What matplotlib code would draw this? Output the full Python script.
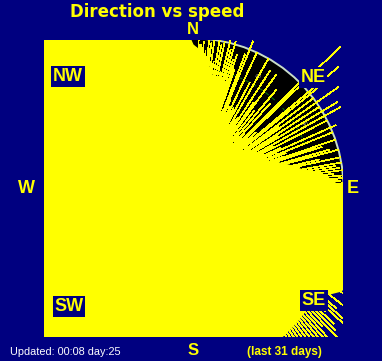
import numpy as np
import matplotlib
matplotlib.use("Agg")
import matplotlib.pyplot as plt
from matplotlib.patches import Circle

NAVY = "#000080"
YELLOW = "#ffff00"

# bulk of the readings: max speed reached by the dense part, per 5 deg (compass, clockwise from N)
env_dir = [0, 5, 10, 15, 20, 25, 30, 35, 40, 45, 50, 55, 60, 65, 70, 75, 80, 85,
           90, 95, 100, 105, 110, 115, 120, 125, 130, 135, 140, 145, 150, 155, 160, 165, 170, 175,
           180, 185, 190, 195, 200, 205, 210, 215, 220, 225, 230, 235, 240, 245, 250, 255, 260, 265,
           270, 275, 280, 285, 290, 295, 300, 305, 310, 315, 320, 325, 330, 335, 340, 345, 350, 355]
env_speed = [48, 45, 38, 32, 27, 23, 20, 17, 15, 14, 16, 18, 21, 24, 27, 32, 37, 45,
             50, 53, 55, 57, 58, 60, 62, 60, 56, 55, 56, 57, 58, 58, 60, 60, 60, 60,
             73, 73, 73, 73, 73, 73, 73, 73, 73, 73, 73, 73, 73, 73, 73, 73, 73, 73,
             73, 73, 73, 73, 73, 73, 73, 73, 73, 73, 73, 73, 73, 73, 73, 73, 73, 60]

# single readings standing out of the bulk
gust_dir = [1, 2, 3, 4, 5, 6, 7, 8, 9, 10, 11, 12, 13, 14, 15, 16, 17, 18, 19, 20,
            21, 22, 23, 24, 25, 26, 27, 28, 29, 30, 31, 32, 33, 34, 35, 36, 37, 38, 39, 40,
            41, 42, 43, 44, 45, 46, 47, 48, 49, 50, 51, 52, 53, 54, 55, 56, 57, 58, 59, 60,
            61, 62, 63, 64, 65, 66, 67, 68, 69, 70, 71, 72, 73, 74, 75, 76, 77, 78, 79, 80,
            81, 82, 83, 84, 85, 86, 87, 88, 89,
            118, 120, 122, 124, 125, 127, 128, 130, 131, 132, 133, 134, 135, 136, 137, 138,
            139, 140, 141, 142, 143, 144, 145, 146, 147, 148, 150, 152, 155]
gust_speed = [47, 50, 48, 49, 46, 50, 49, 50, 43, 51, 49, 50, 40, 51, 48, 51, 45, 47, 42, 22,
              48, 53, 20, 30, 50, 18, 26, 40, 17, 50, 20, 28, 47, 16, 35, 47, 15, 33, 24, 43,
              16, 38, 25, 15, 50, 68, 16, 28, 26, 63, 53, 15, 50, 35, 59, 17, 50, 33, 56, 18,
              56, 30, 50, 20, 32, 52, 22, 50, 33, 24, 50, 45, 25, 47, 50, 28, 43, 50, 30, 50,
              48, 49, 50, 47, 51, 50, 49, 50, 51,
              60, 62, 58, 63, 63, 57, 67, 62, 68, 70, 60, 65, 67, 72, 63, 68,
              72, 67, 67, 70, 72, 63, 68, 67, 62, 62, 60, 59, 60]

# moderate readings in the NE quadrant, half degree bins
mid_dir = [0.5, 1.5, 2.5, 3.5, 4.5, 5.5, 6.5, 7.5, 8.5, 9.5, 10.5, 11.5, 12.5, 13.5, 14.5,
           15.5, 16.5, 17.5, 18.5, 19.5, 20.5, 21.5, 22.5, 23.5, 24.5, 25.5, 26.5, 27.5, 28.5,
           29.5, 30.5, 31.5, 32.5, 33.5, 34.5, 35.5, 36.5, 37.5, 38.5, 39.5, 40.5, 41.5, 42.5,
           43.5, 44.5, 45.5, 46.5, 47.5, 48.5, 49.5, 50.5, 51.5, 52.5, 53.5, 54.5, 55.5, 56.5,
           57.5, 58.5, 59.5, 60.5, 61.5, 62.5, 63.5, 64.5, 65.5, 66.5, 67.5, 68.5, 69.5, 70.5,
           71.5, 72.5, 73.5, 74.5, 75.5, 76.5, 77.5, 78.5, 79.5, 80.5, 81.5, 82.5, 83.5, 84.5,
           85.5, 86.5, 87.5, 88.5, 89.5]
mid_speed = [45, 40, 48, 38, 44, 36, 47, 35, 42, 30,
             40, 30, 36, 25, 38, 27, 33, 22, 35, 24,
             28, 20, 32, 21, 26, 18, 30, 19, 24, 16,
             27, 17, 22, 15, 25, 16, 20, 14, 23, 15,
             19, 13, 22, 14, 18, 13, 22, 15, 19, 15,
             24, 16, 20, 17, 25, 18, 22, 19, 27, 19,
             24, 21, 28, 22, 26, 23, 30, 24, 28, 26,
             32, 27, 30, 28, 34, 29, 32, 31, 36, 32,
             38, 36, 42, 40, 45, 44, 48, 47, 50, 50]

rings = [10, 20, 30, 40]
r_max = 50

W, H = 382, 361
fig = plt.figure(figsize=(W / 100, H / 100), dpi=100)
fig.patch.set_facecolor(NAVY)

# plot square: pixels 44..343 x 40..337
ax = fig.add_axes([44 / W, (H - 337) / H, 299 / W, 297 / H])
ax.set_facecolor(NAVY)
ax.set_xlim(-49.83, 49.83)
ax.set_ylim(-49.5, 49.5)
ax.axis("off")
ax.patch.set_visible(True)

ax.add_patch(Circle((0, 0), r_max, facecolor="black", edgecolor="#c8dcc8", lw=1.4, zorder=1))
for r in rings:
    ax.add_patch(Circle((0, 0), r, facecolor="none", edgecolor="#0a6a0a", lw=0.8,
                        linestyle=(0, (4, 3)), zorder=2))
for a in [0, 30, 60, 90]:
    t = np.radians(a)
    ax.text(43 * np.sin(t), 43 * np.cos(t), "40", color="#a0a0a0", fontsize=4,
            ha="center", va="center", zorder=2)

t = np.radians(env_dir)
ex = np.array(env_speed) * np.sin(t)
ey = np.array(env_speed) * np.cos(t)
ax.fill(ex, ey, color=YELLOW, lw=0, zorder=3)

for d, s in zip(gust_dir + mid_dir, gust_speed + mid_speed):
    t = np.radians(d)
    ax.plot([0, s * np.sin(t)], [0, s * np.cos(t)], color=YELLOW, lw=0.5, zorder=3,
            solid_capstyle="butt", antialiased=False)


def fpos(x, y):
    return x / W, 1 - y / H


box = dict(boxstyle="square,pad=0.1", facecolor=NAVY, edgecolor="none")
fig.text(*fpos(157, 17), "Direction vs speed", color=YELLOW, fontsize=12, fontweight="bold",
         family="DejaVu Sans", ha="center", va="baseline")
for lab, x, y, size, b in [("N", 193, 33.5, 12, None), ("S", 193, 355, 12, None),
                           ("W", 26, 193, 13, None), ("E", 353, 193, 13, None),
                           ("NE", 313, 82, 13, box), ("NW", 68, 81, 13, box),
                           ("SW", 69, 311, 13, box), ("SE", 314, 305, 13, box)]:
    fig.text(*fpos(x, y), lab, color=YELLOW, fontsize=size, fontweight="bold",
             family="Liberation Sans", ha="center", va="baseline", bbox=b)

fig.text(*fpos(10, 355), "Updated: 00:08 day:25", color="white", fontsize=7.8,
         family="Liberation Sans", ha="left", va="baseline")
fig.text(*fpos(284, 355), "(last 31 days)", color=YELLOW, fontsize=8.5, fontweight="bold",
         family="Liberation Sans", ha="center", va="baseline")

fig.savefig("out.png", dpi=100, facecolor=NAVY)
